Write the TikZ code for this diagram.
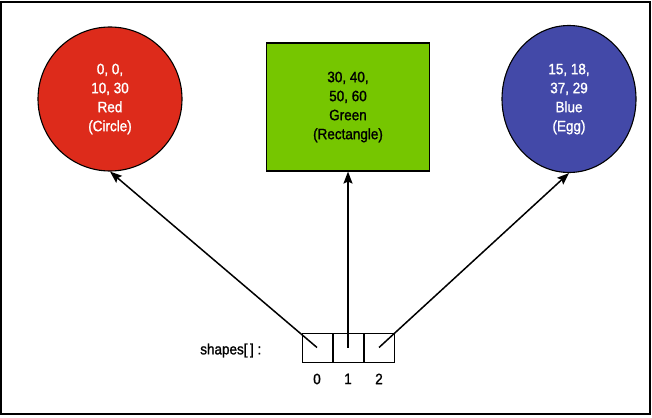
\documentclass[tikz,border=0pt]{standalone}
\usepackage{fontspec}
\setmainfont{Liberation Sans}[FakeStretch=0.9]
\newfontfamily\medfont{Liberation Sans}[FakeStretch=0.9,FakeBold=1.3]
\usetikzlibrary{arrows.meta, positioning, shapes.geometric}
\definecolor{shapered}{RGB}{221,43,27}
\definecolor{shapegreen}{RGB}{118,198,0}
\definecolor{shapeblue}{RGB}{67,73,168}
\tikzset{
  shapenode/.style={draw,line width=1.1pt,align=center,inner sep=0pt,
    font=\medfont\fontsize{15}{19}\selectfont},
  cell/.style={rectangle,draw,line width=1pt,minimum width=30pt,minimum height=29pt,inner sep=0pt},
  idx/.style={font=\medfont\fontsize{15}{16}\selectfont,inner sep=0pt},
  line/.style={-{Stealth[length=12pt,width=9pt,inset=2pt]},line width=1.5pt}
}

\begin{document}
\begin{tikzpicture}[x=1pt,y=-1pt]
\useasboundingbox (0,0) rectangle (652,417);
\draw[line width=2pt] (1,2) rectangle (650,414);
\node[shapenode, circle, minimum size=144pt, fill=shapered, text=white] (circ) at (110,99)
  {0, 0,\\10, 30\\Red\\(Circle)};
\node[shapenode, rectangle, minimum width=163pt, minimum height=128pt, fill=shapegreen] (rect) at (348,107)
  {30, 40,\\50, 60\\Green\\(Rectangle)};
\node[shapenode, ellipse, minimum width=134pt, minimum height=147pt, fill=shapeblue, text=white] (egg) at (569,99)
  {15, 18,\\37, 29\\Blue\\(Egg)};
\node[cell] (cell0) at (317,347.5) {};
\node[cell, right=0pt of cell0] (cell1) {};
\node[cell, right=0pt of cell1] (cell2) {};
\node[idx, below=11pt of cell0] (i0) {0};
\node[idx, below=11pt of cell1] (i1) {1};
\node[idx, below=11pt of cell2] (i2) {2};
\node[idx, left=40pt of cell0, yshift=-3pt] (arr) {shapes[\,]\ :};
\draw[line] (cell0.center) -- (circ.south);
\draw[line] (cell1.center) -- (rect.south);
\draw[line] (cell2.center) -- (egg.south);
\end{tikzpicture}
\end{document}
